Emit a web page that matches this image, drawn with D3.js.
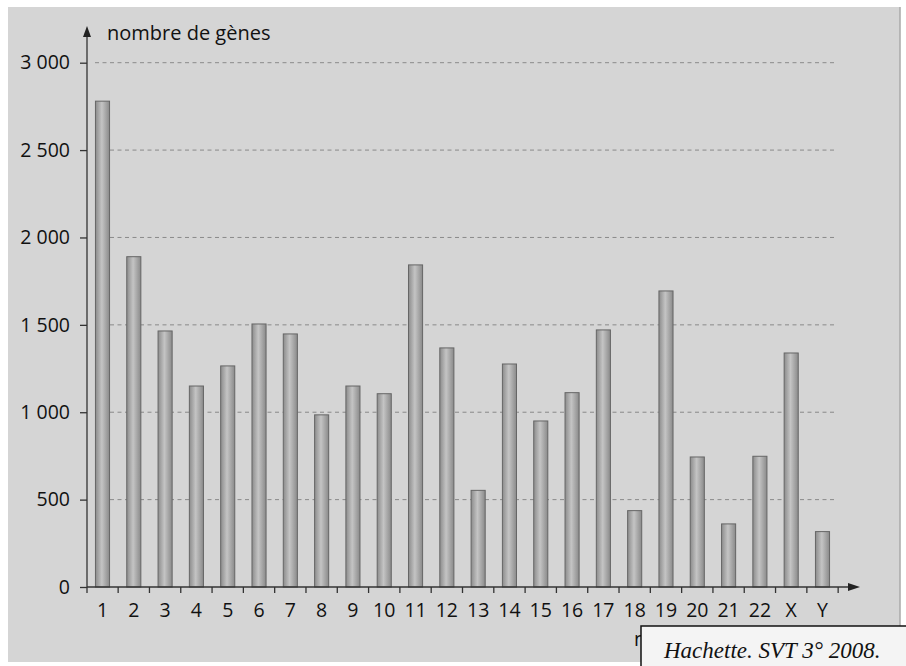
<!DOCTYPE html>
<html>
<head>
<meta charset="utf-8">
<script src="https://cdn.jsdelivr.net/npm/d3@7"></script>
<style>
  body { margin: 0; background: #fff; }
  svg { display: block; }
</style>
</head>
<body>
<div id="chart"></div>
<script>
// chromosomes and number of genes per chromosome
const chromosomes = ["1","2","3","4","5","6","7","8","9","10","11","12",
                     "13","14","15","16","17","18","19","20","21","22","X","Y"];
const genes = [2780, 1890, 1465, 1150, 1265, 1505, 1448, 985, 1150, 1106, 1843, 1368,
               553, 1276, 950, 1112, 1471, 437, 1694, 744, 361, 748, 1339, 317];
const yTicks = [0, 500, 1000, 1500, 2000, 2500, 3000];
const yTickLabels = ["0", "500", "1 000", "1 500", "2 000", "2 500", "3 000"];

const width = 906;
const height = 666;
const origin = { x: 87, y: 587 };
const font = "'Open Sans', 'Noto Sans', sans-serif";
const fontSize = 19.5;

const svg = d3.select("#chart")
    .append("svg")
    .attr("width", width)
    .attr("height", height);

// scanned page background
svg.append("rect")
    .attr("x", 8).attr("y", 7)
    .attr("width", 892).attr("height", 655)
    .attr("fill", "#d5d5d5");
svg.append("line")
    .attr("x1", 900).attr("x2", 900).attr("y1", 7).attr("y2", 662)
    .attr("stroke", "#a8a8a8").attr("stroke-width", 1.5);

const defs = svg.append("defs");
const grad = defs.append("linearGradient")
    .attr("id", "barGrad")
    .attr("x1", "0%").attr("x2", "100%");
grad.append("stop").attr("offset", "0%").attr("stop-color", "#8c8c8c");
grad.append("stop").attr("offset", "45%").attr("stop-color", "#c4c4c4");
grad.append("stop").attr("offset", "100%").attr("stop-color", "#8a8a8a");

// only the first letter of the x title peeks out from behind the source box
defs.append("clipPath")
    .attr("id", "titleClip")
    .append("rect")
    .attr("x", 620).attr("y", 620)
    .attr("width", 21).attr("height", 40);

const xScale = d3.scaleBand()
    .domain(chromosomes)
    .range([origin.x, 838])
    .paddingInner(0.55)
    .paddingOuter(0.27);

const yScale = d3.scaleLinear()
    .domain([0, 3000])
    .range([origin.y, 62.7]);

// dashed grid lines
svg.append("g")
    .selectAll("line")
    .data(yTicks.filter(d => d > 0))
    .join("line")
    .attr("x1", 95)
    .attr("x2", 837)
    .attr("y1", d => yScale(d))
    .attr("y2", d => yScale(d))
    .attr("stroke", "#8a8a8a")
    .attr("stroke-width", 1)
    .attr("stroke-dasharray", "4,3.5");

// bars
svg.append("g")
    .selectAll("rect")
    .data(genes)
    .join("rect")
    .attr("x", (d, i) => xScale(chromosomes[i]))
    .attr("y", d => yScale(d))
    .attr("width", xScale.bandwidth())
    .attr("height", d => yScale(0) - yScale(d))
    .attr("fill", "url(#barGrad)")
    .attr("stroke", "#666")
    .attr("stroke-width", 1);

// y axis
const yAxis = svg.append("g")
    .attr("transform", `translate(${origin.x},0)`)
    .call(d3.axisLeft(yScale)
        .tickValues(yTicks)
        .tickFormat((d, i) => yTickLabels[i])
        .tickSize(7)
        .tickPadding(10));
yAxis.select(".domain").remove();
yAxis.selectAll(".tick line").attr("stroke", "#333").attr("stroke-width", 1.3);
yAxis.selectAll(".tick text")
    .attr("font-family", font)
    .attr("font-size", fontSize)
    .attr("fill", "#111");

svg.append("line")
    .attr("x1", origin.x).attr("x2", origin.x)
    .attr("y1", origin.y).attr("y2", 34)
    .attr("stroke", "#333").attr("stroke-width", 1.3);
svg.append("path")
    .attr("d", `M${origin.x},26 L${origin.x - 4},37 L${origin.x + 4},37 Z`)
    .attr("fill", "#222");

// x axis
const xTickPos = d3.range(chromosomes.length + 1)
    .map(i => i === 0 ? origin.x : xScale(chromosomes[i - 1]) + xScale.bandwidth() / 2 + xScale.step() / 2);
svg.append("line")
    .attr("x1", origin.x).attr("x2", 852)
    .attr("y1", origin.y).attr("y2", origin.y)
    .attr("stroke", "#333").attr("stroke-width", 1.3);
svg.append("path")
    .attr("d", `M860,${origin.y} L848,${origin.y - 4} L848,${origin.y + 4} Z`)
    .attr("fill", "#222");
svg.append("g")
    .selectAll("line")
    .data(xTickPos)
    .join("line")
    .attr("x1", d => d).attr("x2", d => d)
    .attr("y1", origin.y).attr("y2", origin.y + 6)
    .attr("stroke", "#333").attr("stroke-width", 1.3);

svg.append("g")
    .selectAll("text")
    .data(chromosomes)
    .join("text")
    .attr("x", d => xScale(d) + xScale.bandwidth() / 2)
    .attr("y", 617)
    .attr("text-anchor", "middle")
    .attr("font-family", font)
    .attr("font-size", fontSize)
    .attr("fill", "#111")
    .text(d => d);

// axis titles
svg.append("text")
    .attr("x", 107).attr("y", 40)
    .attr("font-family", font)
    .attr("font-size", 20)
    .attr("fill", "#111")
    .text("nombre de gènes");

svg.append("text")
    .attr("x", 634).attr("y", 646)
    .attr("clip-path", "url(#titleClip)")
    .attr("font-family", font)
    .attr("font-size", fontSize)
    .attr("fill", "#111")
    .text("n");

// source box
svg.append("rect")
    .attr("x", 641).attr("y", 626)
    .attr("width", 268).attr("height", 44)
    .attr("fill", "#f4f4f4")
    .attr("stroke", "#111")
    .attr("stroke-width", 1.5);
svg.append("text")
    .attr("x", 664).attr("y", 658)
    .attr("font-family", "'Liberation Serif', 'DejaVu Serif', serif")
    .attr("font-style", "italic")
    .attr("font-size", 23)
    .attr("fill", "#111")
    .text("Hachette. SVT 3° 2008.");
</script>
</body>
</html>
